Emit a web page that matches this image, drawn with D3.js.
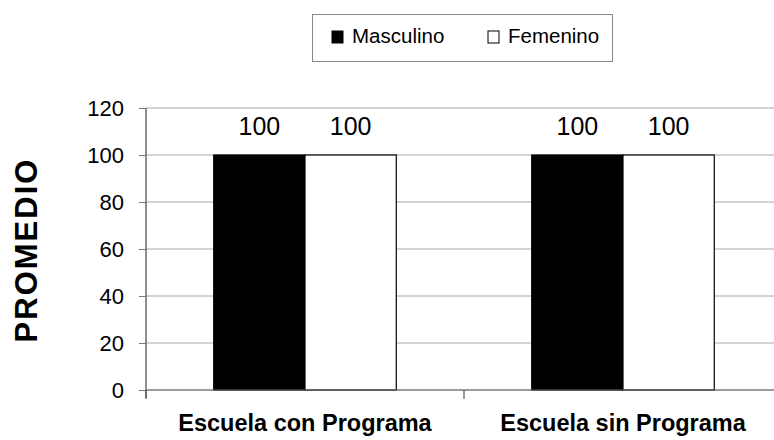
<!DOCTYPE html>
<html>
<head>
<meta charset="utf-8">
<script src="https://cdn.jsdelivr.net/npm/d3@7"></script>
<style>
  body { margin: 0; background: #fff; }
  svg { display: block; font-family: "Liberation Sans", Arial, sans-serif; }
</style>
</head>
<body>
<svg id="chart" width="774" height="440"></svg>
<script>
// Average score by school type and sex
const categories = ["Escuela con Programa", "Escuela sin Programa"];
const series = ["Masculino", "Femenino"];
const masculino = [100, 100];
const femenino = [100, 100];
const yTicks = [0, 20, 40, 60, 80, 100, 120];
const yLabel = "PROMEDIO";

const colors = { Masculino: "#000000", Femenino: "#ffffff" };
const values = { Masculino: masculino, Femenino: femenino };

const svg = d3.select("#chart");
const plot = { left: 146, right: 782, top: 108, bottom: 390 };

const x0 = d3.scaleBand().domain(categories).range([plot.left, plot.right]).padding(0);
const x1 = d3.scaleBand().domain(series).range([0, x0.bandwidth()]).paddingInner(0).paddingOuter(0.742);
const y = d3.scaleLinear().domain([0, 120]).range([plot.bottom, plot.top]);

// horizontal gridlines
svg.append("g")
  .selectAll("line")
  .data(yTicks)
  .join("line")
  .attr("x1", plot.left)
  .attr("x2", 774)
  .attr("y1", d => y(d))
  .attr("y2", d => y(d))
  .attr("stroke", "#a8a8a8")
  .attr("stroke-width", 1);

// bars
const groups = svg.append("g")
  .selectAll("g")
  .data(categories)
  .join("g")
  .attr("transform", d => `translate(${x0(d)},0)`);

groups.selectAll("rect")
  .data((c, i) => series.map(s => ({ s, v: values[s][i] })))
  .join("rect")
  .attr("x", d => x1(d.s))
  .attr("y", d => y(d.v))
  .attr("width", x1.bandwidth())
  .attr("height", d => y(0) - y(d.v))
  .attr("fill", d => colors[d.s])
  .attr("stroke", "#000")
  .attr("stroke-width", 1.2);

// value labels
groups.selectAll("text")
  .data((c, i) => series.map(s => ({ s, v: values[s][i] })))
  .join("text")
  .attr("x", d => x1(d.s) + x1.bandwidth() / 2)
  .attr("y", d => y(d.v) - 20)
  .attr("text-anchor", "middle")
  .attr("font-size", 25)
  .attr("fill", "#000")
  .text(d => d.v);

// y axis
const yAxis = svg.append("g")
  .attr("transform", `translate(${plot.left},0)`)
  .call(d3.axisLeft(y).tickValues(yTicks).tickSize(7).tickPadding(15).tickSizeOuter(0));
yAxis.select(".domain").attr("stroke", "#555").attr("stroke-width", 1.3);
yAxis.selectAll(".tick line").attr("stroke", "#777");
yAxis.selectAll(".tick text")
  .attr("font-size", 22)
  .attr("fill", "#000")
  .attr("font-family", "Liberation Sans, Arial, sans-serif");
yAxis.select(".domain").attr("d", `M0,${y(120)}V${plot.bottom + 8}`);

// x axis baseline and category separators
svg.append("line")
  .attr("x1", plot.left).attr("x2", 774)
  .attr("y1", y(0)).attr("y2", y(0))
  .attr("stroke", "#666").attr("stroke-width", 1.2);
svg.append("g")
  .selectAll("line")
  .data(categories)
  .join("line")
  .attr("x1", d => x0(d)).attr("x2", d => x0(d))
  .attr("y1", y(0)).attr("y2", y(0) + 9)
  .attr("stroke", "#555").attr("stroke-width", 1.2);

// category labels
svg.append("g")
  .selectAll("text")
  .data(categories)
  .join("text")
  .attr("x", d => x0(d) + x0.bandwidth() / 2)
  .attr("y", 431)
  .attr("text-anchor", "middle")
  .attr("font-size", 23.5)
  .attr("font-weight", "bold")
  .attr("fill", "#000")
  .text(d => d);

// y axis title
svg.append("text")
  .attr("transform", "translate(37,250) rotate(-90)")
  .attr("text-anchor", "middle")
  .attr("font-size", 31)
  .attr("font-weight", "bold")
  .attr("letter-spacing", 2)
  .attr("fill", "#000")
  .text(yLabel);

// legend
const legend = svg.append("g");
legend.append("rect")
  .attr("x", 312.5).attr("y", 14.5)
  .attr("width", 300).attr("height", 47)
  .attr("fill", "#fff")
  .attr("stroke", "#888")
  .attr("stroke-width", 1);

const legendX = d3.scalePoint().domain(series).range([332, 488]);
const items = legend.selectAll("g.item")
  .data(series)
  .join("g")
  .attr("class", "item")
  .attr("transform", d => `translate(${legendX(d)},0)`);
items.append("rect")
  .attr("x", 0).attr("y", 31)
  .attr("width", 11).attr("height", 12)
  .attr("fill", d => colors[d])
  .attr("stroke", "#000")
  .attr("stroke-width", 1);
items.append("text")
  .attr("x", 20).attr("y", 43)
  .attr("font-size", 20.5)
  .attr("fill", "#000")
  .text(d => d);
</script>
</body>
</html>
